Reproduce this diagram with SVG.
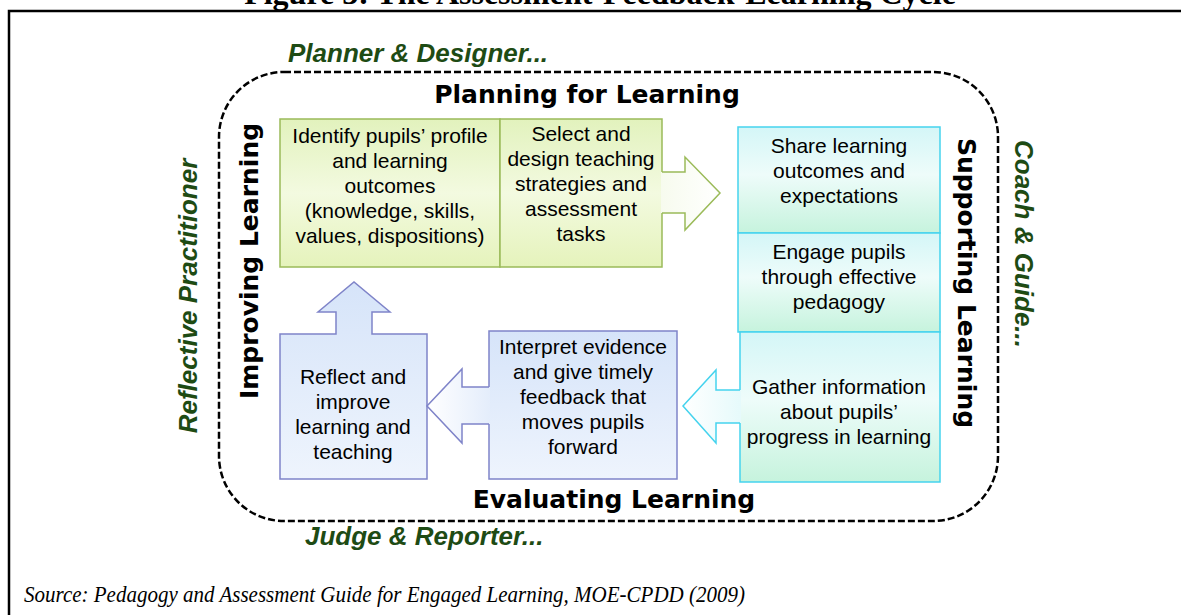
<svg xmlns="http://www.w3.org/2000/svg" width="1181" height="615" viewBox="0 0 1181 615">
<style>
.bx{font-family:"Liberation Sans",Arial,sans-serif;font-size:21px;fill:#000;text-anchor:middle}
.hd{font-family:"DejaVu Sans",Verdana,sans-serif;font-weight:bold;font-size:25px;fill:#000;text-anchor:middle}
.role{font-family:"Liberation Sans",Arial,sans-serif;font-weight:bold;font-style:italic;font-size:26px;fill:#1e4b14}
.gr{stroke:#9bbb59;stroke-width:1.5}
.cy{stroke:#45d3ee;stroke-width:1.5}
.bl{stroke:#7f84c9;stroke-width:1.5}
</style>
<defs>
<linearGradient id="gG" x1="0" y1="0" x2="0" y2="1">
<stop offset="0" stop-color="#e2f2bd"/><stop offset="0.5" stop-color="#f3fae0"/><stop offset="1" stop-color="#e5f3bb"/>
</linearGradient>
<linearGradient id="gGA" x1="0" y1="0" x2="1" y2="0">
<stop offset="0" stop-color="#f7fbee"/><stop offset="1" stop-color="#ffffff"/>
</linearGradient>
<linearGradient id="gC" x1="0" y1="0" x2="0" y2="1">
<stop offset="0" stop-color="#d4f6f7"/><stop offset="0.45" stop-color="#eefcfa"/><stop offset="1" stop-color="#c6f3dd"/>
</linearGradient>
<linearGradient id="gCA" x1="0" y1="0" x2="1" y2="0">
<stop offset="0" stop-color="#ffffff"/><stop offset="1" stop-color="#e6fafb"/>
</linearGradient>
<linearGradient id="gB" x1="0" y1="0" x2="0" y2="1">
<stop offset="0" stop-color="#d6e4f9"/><stop offset="1" stop-color="#eef4fd"/>
</linearGradient>
<linearGradient id="gBA" x1="0" y1="0" x2="1" y2="0">
<stop offset="0" stop-color="#ffffff"/><stop offset="1" stop-color="#e4edfb"/>
</linearGradient>
</defs>
<rect width="1181" height="615" fill="#fff"/>
<g id="frame">
<text x="600" y="4" font-family="Liberation Serif,'Times New Roman',serif" font-weight="bold" font-size="32" text-anchor="middle">Figure 3: The Assessment-Feedback-Learning Cycle</text>
<rect x="9" y="11" width="1200" height="700" fill="none" stroke="#000" stroke-width="2.5"/>
<rect x="219" y="72" width="779" height="449" rx="65" ry="65" fill="none" stroke="#000" stroke-width="2.5" stroke-dasharray="7 3"/>
</g>
<g id="labels">
<text class="role" x="288" y="62">Planner &amp; Designer...</text>
<text class="role" x="305" y="545">Judge &amp; Reporter...</text>
<text class="role" text-anchor="middle" transform="translate(197,296) rotate(-90)">Reflective Practitioner</text>
<text class="role" text-anchor="middle" transform="translate(1015,244) rotate(90)">Coach &amp; Guide...</text>
<text class="hd" x="587" y="103">Planning for Learning</text>
<text class="hd" x="614" y="508">Evaluating Learning</text>
<text class="hd" transform="translate(258,261) rotate(-90)">Improving Learning</text>
<text class="hd" transform="translate(958,283) rotate(90)">Supporting Learning</text>
</g>
<g id="identify">
<rect class="gr" x="280" y="119" width="220" height="148" fill="url(#gG)"/>
<text class="bx"><tspan x="390" y="143">Identify pupils’ profile</tspan><tspan x="390" y="168">and learning</tspan><tspan x="390" y="193">outcomes</tspan><tspan x="390" y="218">(knowledge, skills,</tspan><tspan x="390" y="243">values, dispositions)</tspan></text>
</g>
<g id="select">
<rect x="500" y="119" width="162" height="148" fill="url(#gG)"/>
<path class="gr" d="M662,172 V119 H500 V267 H662 V213" fill="none"/>
<text class="bx"><tspan x="581" y="141">Select and</tspan><tspan x="581" y="166">design teaching</tspan><tspan x="581" y="191">strategies and</tspan><tspan x="581" y="216">assessment</tspan><tspan x="581" y="241">tasks</tspan></text>
</g>
<g id="share">
<rect class="cy" x="738" y="127" width="202" height="106" fill="url(#gC)"/>
<text class="bx"><tspan x="839" y="153">Share learning</tspan><tspan x="839" y="178">outcomes and</tspan><tspan x="839" y="203">expectations</tspan></text>
</g>
<g id="engage">
<rect class="cy" x="738" y="233" width="202" height="99" fill="url(#gC)"/>
<text class="bx"><tspan x="839" y="259">Engage pupils</tspan><tspan x="839" y="284">through effective</tspan><tspan x="839" y="309">pedagogy</tspan></text>
</g>
<g id="gather">
<rect x="740" y="332" width="200" height="150" fill="url(#gC)"/>
<path class="cy" d="M740,390 V332 H940 V482 H740 V423" fill="none"/>
<text class="bx"><tspan x="839" y="394">Gather information</tspan><tspan x="839" y="419">about pupils’</tspan><tspan x="839" y="444">progress in learning</tspan></text>
</g>
<g id="interpret">
<rect x="489" y="331" width="188" height="148" fill="url(#gB)"/>
<path class="bl" d="M489,387 V331 H677 V479 H489 V424" fill="none"/>
<text class="bx"><tspan x="583" y="354">Interpret evidence</tspan><tspan x="583" y="379">and give timely</tspan><tspan x="583" y="404">feedback that</tspan><tspan x="583" y="429">moves pupils</tspan><tspan x="583" y="454">forward</tspan></text>
</g>
<g id="reflect">
<polygon class="bl" points="280,334 336,334 336,312 318,312 354,282 390,312 372,312 372,334 427,334 427,479 280,479" fill="url(#gB)"/>
<text class="bx"><tspan x="353" y="384">Reflect and</tspan><tspan x="353" y="409">improve</tspan><tspan x="353" y="434">learning and</tspan><tspan x="353" y="459">teaching</tspan></text>
</g>
<g id="connectors">
<polygon points="661,172 685,172 685,157 720,193 685,230 685,213 661,213" fill="url(#gGA)"/>
<polyline class="gr" points="662,172 685,172 685,157 720,193 685,230 685,213 662,213" fill="none"/>
<polygon points="741,390 716,390 716,370 683,406 716,443 716,423 741,423" fill="url(#gCA)"/>
<polyline class="cy" points="740,390 716,390 716,370 683,406 716,443 716,423 740,423" fill="none"/>
<polygon points="490,387 462,387 462,369 427,406 462,443 462,424 490,424" fill="url(#gBA)"/>
<polyline class="bl" points="489,387 462,387 462,369 427,406 462,443 462,424 489,424" fill="none"/>
</g>
<g id="source">
<text x="24" y="602" font-family="Liberation Serif,'Times New Roman',serif" font-style="italic" font-size="24" textLength="721" lengthAdjust="spacingAndGlyphs">Source: Pedagogy and Assessment Guide for Engaged Learning, MOE-CPDD (2009)</text>
</g>
</svg>
